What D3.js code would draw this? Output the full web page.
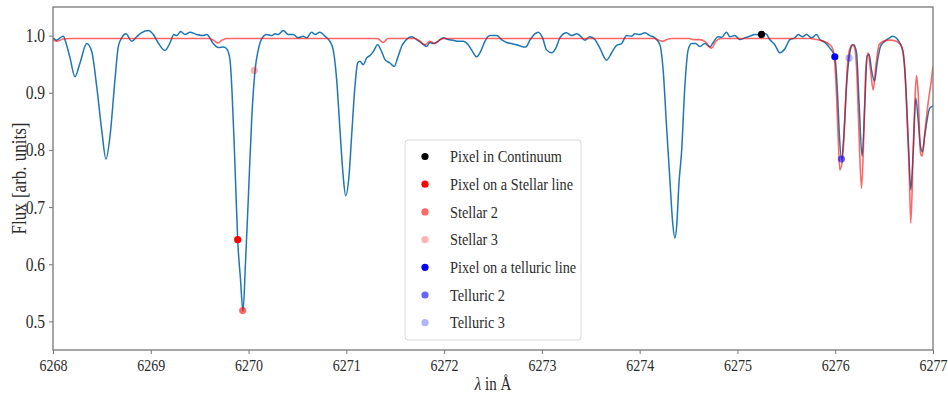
<!DOCTYPE html>
<html>
<head>
<meta charset="utf-8">
<script src="https://cdn.jsdelivr.net/npm/d3@7"></script>
<style>
  body { margin: 0; background: #fff; }
  text { font-family: "Liberation Serif", "DejaVu Serif", serif; fill: #2b2b2b; }
</style>
</head>
<body>
<div id="chart"></div>
<script>
// observed spectrum (blue)
const obsWave = [6268.000, 6268.038, 6268.072, 6268.105, 6268.133, 6268.174, 6268.225, 6268.276, 6268.345, 6268.396,
  6268.447, 6268.498, 6268.542, 6268.583, 6268.634, 6268.668, 6268.702, 6268.746, 6268.805, 6268.856,
  6268.907, 6268.974, 6269.026, 6269.077, 6269.145, 6269.196, 6269.237, 6269.265, 6269.306, 6269.350,
  6269.401, 6269.469, 6269.537, 6269.572, 6269.639, 6269.690, 6269.741, 6269.776, 6269.810, 6269.830,
  6269.851, 6269.871, 6269.889, 6269.917, 6269.943, 6269.968, 6269.997, 6270.032, 6270.065, 6270.099,
  6270.140, 6270.185, 6270.236, 6270.270, 6270.304, 6270.355, 6270.406, 6270.457, 6270.508, 6270.559,
  6270.594, 6270.645, 6270.679, 6270.730, 6270.781, 6270.832, 6270.866, 6270.901, 6270.935, 6270.968,
  6270.993, 6271.027, 6271.054, 6271.088, 6271.116, 6271.139, 6271.173, 6271.208, 6271.241, 6271.275,
  6271.320, 6271.361, 6271.395, 6271.446, 6271.490, 6271.525, 6271.565, 6271.599, 6271.668, 6271.719,
  6271.770, 6271.821, 6271.855, 6271.889, 6271.940, 6271.991, 6272.042, 6272.093, 6272.144, 6272.195,
  6272.246, 6272.291, 6272.332, 6272.373, 6272.417, 6272.468, 6272.537, 6272.588, 6272.639, 6272.690,
  6272.741, 6272.792, 6272.836, 6272.877, 6272.928, 6272.962, 6273.007, 6273.048, 6273.099, 6273.143,
  6273.184, 6273.252, 6273.304, 6273.355, 6273.389, 6273.440, 6273.491, 6273.542, 6273.593, 6273.662,
  6273.713, 6273.764, 6273.815, 6273.866, 6273.917, 6273.951, 6274.002, 6274.053, 6274.104, 6274.155,
  6274.207, 6274.240, 6274.275, 6274.309, 6274.339, 6274.360, 6274.380, 6274.401, 6274.428, 6274.462,
  6274.496, 6274.531, 6274.572, 6274.616, 6274.667, 6274.718, 6274.752, 6274.803, 6274.840, 6274.888,
  6274.922, 6274.973, 6275.024, 6275.076, 6275.127, 6275.178, 6275.246, 6275.290, 6275.331, 6275.382,
  6275.434, 6275.485, 6275.536, 6275.587, 6275.621, 6275.666, 6275.707, 6275.758, 6275.809, 6275.843,
  6275.894, 6275.945, 6275.996, 6276.020, 6276.040, 6276.064, 6276.088, 6276.115, 6276.142, 6276.166,
  6276.190, 6276.218, 6276.244, 6276.275, 6276.303, 6276.326, 6276.347, 6276.371, 6276.402, 6276.429,
  6276.463, 6276.507, 6276.558, 6276.589, 6276.630, 6276.661, 6276.695, 6276.722, 6276.750, 6276.773,
  6276.797, 6276.824, 6276.848, 6276.872, 6276.892, 6276.916, 6276.940, 6276.967, 6277.000];
const obsFlux = [0.996, 0.992, 0.996, 0.999, 0.987, 0.961, 0.928, 0.952, 0.986, 0.972,
  0.911, 0.835, 0.784, 0.824, 0.923, 0.981, 0.996, 1.003, 0.990, 0.998,
  1.005, 1.009, 1.002, 0.987, 0.974, 0.987, 1.002, 1.000, 1.007, 1.002,
  1.006, 1.002, 1.000, 1.002, 0.986, 0.979, 0.980, 0.977, 0.958, 0.905,
  0.820, 0.725, 0.643, 0.575, 0.518, 0.600, 0.713, 0.853, 0.937, 0.975,
  0.996, 1.002, 1.000, 1.003, 1.002, 1.009, 1.002, 1.002, 0.996, 0.999,
  0.996, 1.006, 1.002, 1.006, 0.999, 0.990, 0.975, 0.923, 0.835, 0.754,
  0.720, 0.754, 0.824, 0.911, 0.952, 0.955, 0.949, 0.961, 0.965, 0.972,
  0.984, 0.972, 0.958, 0.952, 0.946, 0.961, 0.981, 0.990, 0.998, 0.993,
  0.987, 0.981, 0.988, 0.986, 0.990, 0.996, 0.993, 0.992, 0.990, 0.990,
  0.984, 0.972, 0.963, 0.972, 0.990, 1.000, 1.000, 0.993, 0.988, 0.986,
  0.984, 0.981, 0.980, 0.992, 1.003, 1.006, 0.996, 0.975, 0.970, 0.978,
  0.996, 1.005, 1.000, 1.003, 1.000, 0.992, 0.998, 0.993, 0.978, 0.957,
  0.970, 0.983, 0.986, 1.000, 0.999, 1.003, 1.002, 1.005, 1.000, 0.996,
  0.984, 0.940, 0.841, 0.748, 0.670, 0.646, 0.670, 0.740, 0.795, 0.911,
  0.975, 0.986, 0.986, 0.981, 0.986, 0.980, 0.988, 0.998, 0.997, 1.006,
  0.998, 1.000, 0.993, 0.996, 0.999, 1.002, 1.002, 1.003, 0.993, 0.984,
  0.970, 0.977, 0.993, 0.996, 1.002, 0.998, 1.002, 0.996, 1.002, 0.993,
  0.988, 0.978, 0.963, 0.911, 0.835, 0.784, 0.824, 0.911, 0.961, 0.981,
  0.984, 0.970, 0.882, 0.789, 0.882, 0.964, 0.967, 0.940, 0.920, 0.952,
  0.981, 0.990, 0.996, 0.999, 0.995, 0.987, 0.970, 0.911, 0.806, 0.730,
  0.795, 0.891, 0.853, 0.806, 0.797, 0.825, 0.853, 0.873, 0.877];

// model spectrum (red)
const modelWave = [6268.000, 6268.038, 6268.105, 6268.174, 6269.605, 6269.656, 6269.690, 6269.728, 6269.779,
  6271.320, 6271.377, 6271.425, 6271.702, 6271.753, 6271.804, 6271.855, 6271.906, 6271.957, 6272.008,
  6274.155, 6274.196, 6274.240, 6274.278, 6274.329, 6274.503, 6274.554, 6274.616, 6274.667, 6274.735,
  6274.779, 6274.830, 6275.741, 6275.809, 6275.911, 6275.962, 6275.986, 6276.006, 6276.030, 6276.047,
  6276.074, 6276.098, 6276.122, 6276.149, 6276.177, 6276.200, 6276.224, 6276.244, 6276.269, 6276.292,
  6276.313, 6276.337, 6276.361, 6276.388, 6276.415, 6276.449, 6276.490, 6276.558, 6276.626, 6276.678,
  6276.712, 6276.735, 6276.756, 6276.773, 6276.797, 6276.814, 6276.831, 6276.848, 6276.872, 6276.888,
  6276.916, 6276.950, 6276.984, 6277.000];
const modelFlux = [0.993, 0.990, 0.994, 0.995, 0.995, 0.990, 0.987, 0.992, 0.995,
  0.995, 0.988, 0.995, 0.995, 0.990, 0.984, 0.990, 0.986, 0.993, 0.995,
  0.995, 0.992, 0.990, 0.993, 0.995, 0.995, 0.993, 0.993, 0.990, 0.978,
  0.990, 0.995, 0.995, 0.993, 0.988, 0.981, 0.970, 0.923, 0.824, 0.765,
  0.783, 0.853, 0.940, 0.977, 0.984, 0.978, 0.923, 0.824, 0.733, 0.824,
  0.940, 0.970, 0.940, 0.905, 0.946, 0.984, 0.990, 0.992, 0.990, 0.981,
  0.940, 0.853, 0.765, 0.672, 0.795, 0.882, 0.930, 0.900, 0.795, 0.789,
  0.830, 0.882, 0.923, 0.946];

// selected pixels
const pixelLabels = ["Pixel in Continuum", "Pixel on a Stellar line", "Stellar 2", "Stellar 3",
  "Pixel on a telluric line", "Telluric 2", "Telluric 3"];
const pixelWave = [6275.246, 6269.889, 6269.940, 6270.058, 6275.996, 6276.064, 6276.142];
const pixelFlux = [1.002, 0.643, 0.519, 0.939, 0.963, 0.784, 0.961];
const pixelColor = ["black", "red", "red", "red", "blue", "blue", "blue"];
const pixelAlpha = [1, 1, 0.6, 0.3, 1, 0.6, 0.3];

const xTicks = [6268, 6269, 6270, 6271, 6272, 6273, 6274, 6275, 6276, 6277];
const yTicks = [0.5, 0.6, 0.7, 0.8, 0.9, 1.0];

const width = 948;
const height = 398;
const margin = { top: 7, right: 15, bottom: 48, left: 53 };
const stretch = 1.2; // text in the original looks taller than it is wide

const svg = d3.select('#chart')
  .append('svg')
  .attr('width', width)
  .attr('height', height);

const x = d3.scaleLinear()
  .domain([6268, 6277])
  .range([margin.left, width - margin.right]);

const y = d3.scaleLinear()
  .domain([0.45, 1.05])
  .range([height - margin.bottom, margin.top]);

svg.append('clipPath').attr('id', 'clip')
  .append('rect')
  .attr('x', margin.left).attr('y', margin.top)
  .attr('width', x.range()[1] - margin.left)
  .attr('height', y.range()[0] - margin.top);

const line = d3.line()
  .x(d => x(d[0]))
  .y(d => y(d[1]))
  .curve(d3.curveMonotoneX);

const plot = svg.append('g').attr('clip-path', 'url(#clip)');

// blue = observed, red = model
plot.append('path')
  .datum(d3.zip(obsWave, obsFlux))
  .attr('fill', 'none')
  .attr('stroke', '#1f77b4')
  .attr('stroke-width', 1.5)
  .attr('d', line);

plot.append('path')
  .datum(d3.zip(modelWave, modelFlux))
  .attr('fill', 'none')
  .attr('stroke', 'red')
  .attr('stroke-opacity', 0.6)
  .attr('stroke-width', 1.6)
  .attr('d', line);

plot.selectAll('circle')
  .data(d3.range(pixelWave.length))
  .join('circle')
  .attr('cx', i => x(pixelWave[i]))
  .attr('cy', i => y(pixelFlux[i]))
  .attr('r', 3.6)
  .attr('fill', i => pixelColor[i])
  .attr('fill-opacity', i => pixelAlpha[i]);

// axes
function xAxis(g) {
  g.attr('transform', `translate(0,${height - margin.bottom})`)
    .call(d3.axisBottom(x).tickValues(xTicks).tickFormat(d3.format('d')).tickSize(4).tickPadding(5));
  g.selectAll('.tick text').style('font-size', '14px');
}
function yAxis(g) {
  g.attr('transform', `translate(${margin.left},0)`)
    .call(d3.axisLeft(y).tickValues(yTicks).tickFormat(d3.format('.1f')).tickSize(4).tickPadding(4));
  g.selectAll('.tick text').style('font-size', '15.5px');
}
svg.append('g').call(xAxis);
svg.append('g').call(yAxis);

// stretch the tick labels vertically around their own position
svg.selectAll('.tick text')
  .attr('fill', '#2b2b2b')
  .each(function () {
    const t = d3.select(this);
    const ty = +t.attr('y') || 0;
    t.attr('y', ty / stretch).attr('transform', `scale(1,${stretch})`);
  });
svg.selectAll('.tick line').attr('stroke', '#777');
svg.selectAll('.domain').remove();

// frame
svg.append('rect')
  .attr('x', margin.left).attr('y', margin.top)
  .attr('width', x.range()[1] - margin.left)
  .attr('height', y.range()[0] - margin.top)
  .attr('fill', 'none')
  .attr('stroke', '#777')
  .attr('stroke-width', 1.3);

// axis labels
const xl = svg.append('text')
  .attr('transform', `translate(${(margin.left + x.range()[1]) / 2},390) scale(1,${stretch})`)
  .attr('text-anchor', 'middle')
  .style('font-size', '15px');
xl.append('tspan').style('font-style', 'italic').text('λ');
xl.append('tspan').text(' in Å');

svg.append('text')
  .attr('transform', `translate(26,${(margin.top + y.range()[0]) / 2}) rotate(-90) scale(1,${stretch})`)
  .attr('text-anchor', 'middle')
  .style('font-size', '17px')
  .style('word-spacing', '1px')
  .text('Flux [arb.  units]');

// legend
const lg = svg.append('g').attr('transform', 'translate(405,140)');
lg.append('rect')
  .attr('width', 176).attr('height', 200)
  .attr('rx', 3)
  .attr('fill', 'white').attr('fill-opacity', 0.8)
  .attr('stroke', '#d6d6d6');

const rows = lg.selectAll('g.row')
  .data(d3.range(pixelLabels.length))
  .join('g')
  .attr('class', 'row')
  .attr('transform', i => `translate(0,${16.5 + i * 27.7})`);
rows.append('circle')
  .attr('cx', 20).attr('r', 3.6)
  .attr('fill', i => pixelColor[i])
  .attr('fill-opacity', i => pixelAlpha[i]);
rows.append('text')
  .attr('transform', `translate(45,0) scale(1,${stretch})`)
  .attr('dy', '0.33em')
  .style('font-size', '14.3px')
  .text(i => pixelLabels[i]);
</script>
</body>
</html>
